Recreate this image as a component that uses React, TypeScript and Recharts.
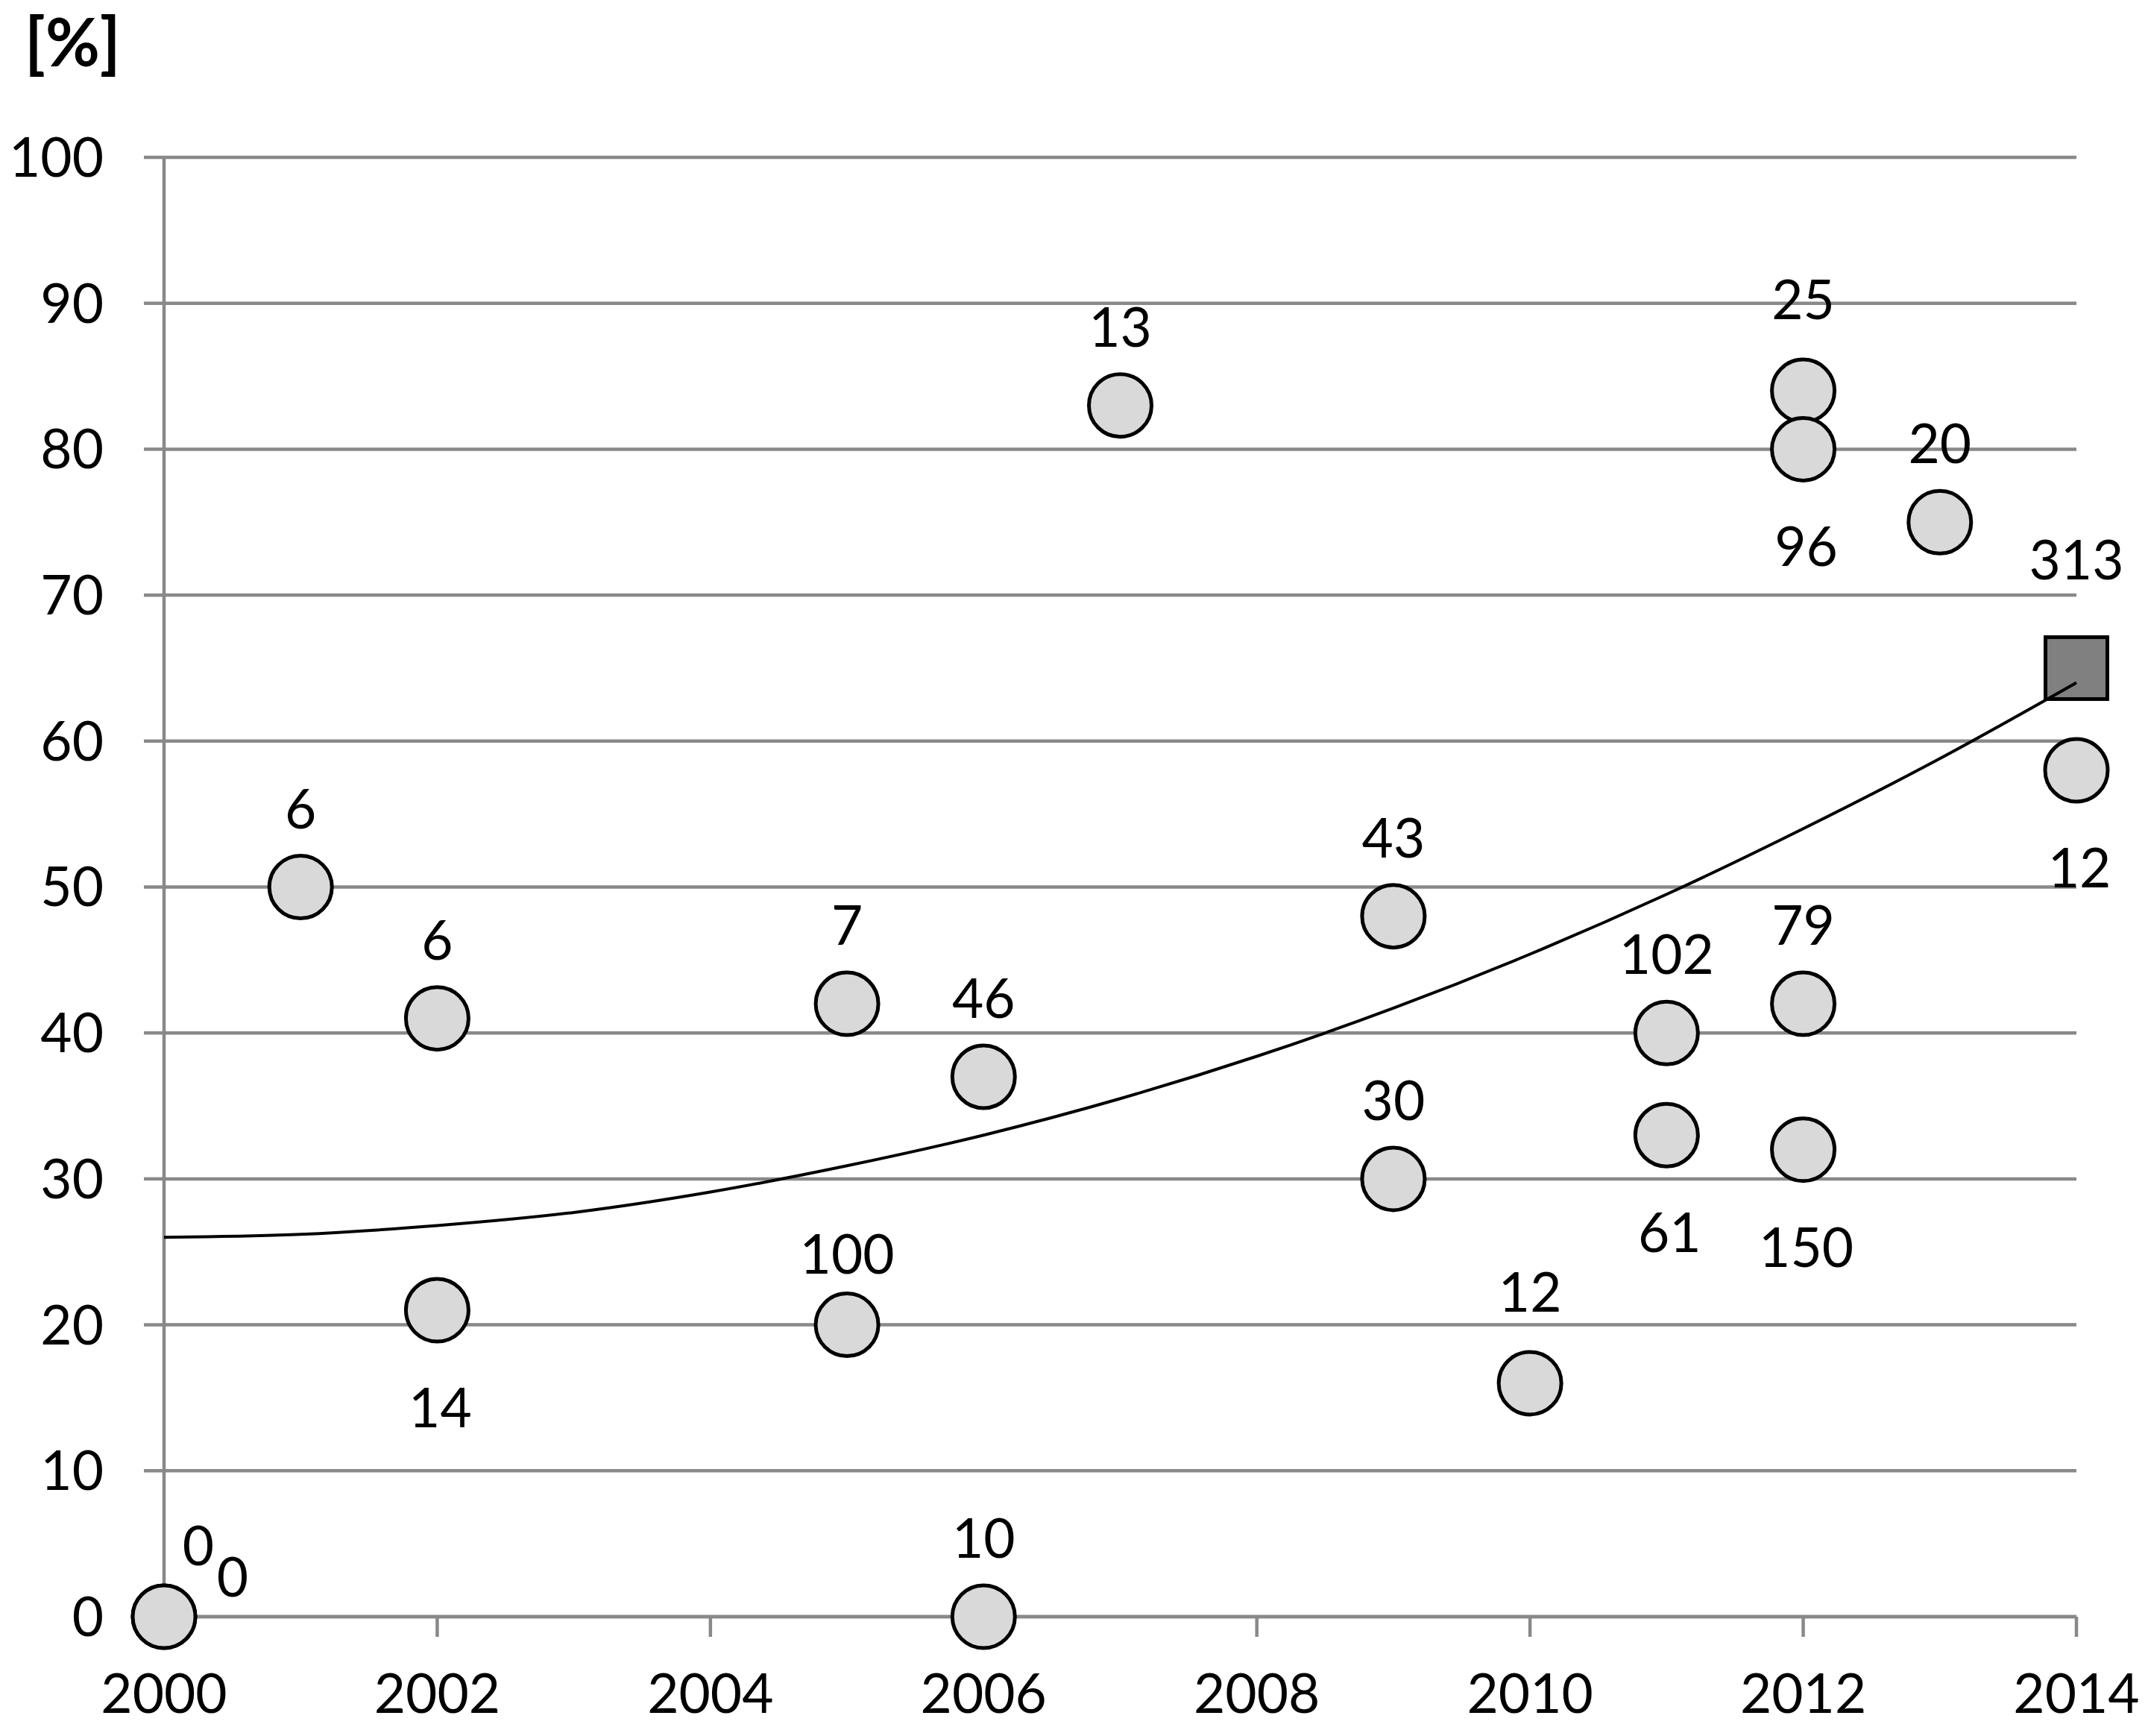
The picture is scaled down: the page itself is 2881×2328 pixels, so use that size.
import React from "react";
import {
  ScatterChart,
  Scatter,
  XAxis,
  YAxis,
  CartesianGrid,
} from "recharts";

// survey points: year, share [%], number of cases (label)
const years = [2000, 2000, 2001, 2002, 2002, 2005, 2005, 2006, 2006, 2007, 2009, 2009, 2010, 2011, 2011, 2012, 2012, 2012, 2012, 2013, 2014];
const shares = [0, 0, 50, 41, 21, 42, 20, 37, 0, 83, 48, 30, 16, 40, 33, 84, 80, 42, 32, 75, 58];
const counts = [0, 0, 6, 6, 14, 7, 100, 46, 10, 13, 43, 30, 12, 102, 61, 25, 96, 79, 150, 20, 12];
const labelSide = ["upRight", "right", "up", "up", "down", "up", "upLow", "up", "up", "up", "up", "up", "upHigh", "up", "down", "upHigh", "down", "up", "down", "up", "down"];

// highlighted (square) point
const squareYear = [2014];
const squareShare = [65];
const squareCount = [313];
const squareSide = ["upTop"];

// trend curve
const trendYears = [2000, 2001, 2002, 2003, 2004, 2005, 2006, 2007, 2008, 2009, 2010, 2011, 2012, 2013, 2014];
const trendValues = [26, 26.2, 26.8, 27.7, 29.1, 30.9, 33.0, 35.5, 38.4, 41.7, 45.4, 49.5, 54.0, 58.8, 64.0];

const xTicks = [2000, 2002, 2004, 2006, 2008, 2010, 2012, 2014];
const yTicks = [0, 10, 20, 30, 40, 50, 60, 70, 80, 90, 100];

const FONT = "Lato, 'Noto Sans', sans-serif";
const FS = 73;
const GRAY = "#898989";

const points = years.map((x, i) => ({ x, y: shares[i], n: counts[i], side: labelSide[i] }));
const squares = squareYear.map((x, i) => ({ x, y: squareShare[i], n: squareCount[i], side: squareSide[i] }));
const trend = trendYears.map((x, i) => ({ x, y: trendValues[i] }));

function labelPos(cx: number, cy: number, side: string) {
  if (side === "down") return { x: cx + 4, y: cy + 129 };
  if (side === "upRight") return { x: cx + 46, y: cy - 97 };
  if (side === "right") return { x: cx + 92, y: cy - 55 };
  if (side === "upHigh") return { x: cx, y: cy - 124 };
  if (side === "upTop") return { x: cx, y: cy - 147 };
  if (side === "upLow") return { x: cx, y: cy - 97 };
  return { x: cx, y: cy - 107 };
}

function Label({ cx, cy, payload }: any) {
  const p = labelPos(cx, cy, payload.side);
  return (
    <text x={p.x} y={p.y} textAnchor="middle" dominantBaseline="central" fontFamily={FONT} fontSize={FS} fill="#000">
      {payload.n}
    </text>
  );
}

function Dot(props: any) {
  const { cx, cy } = props;
  return (
    <g>
      <circle cx={cx} cy={cy} r={42} fill="#d9d9d9" stroke="#000" strokeWidth={5} />
      <Label {...props} />
    </g>
  );
}

function Square(props: any) {
  const { cx, cy } = props;
  return (
    <g>
      <rect x={cx - 41.5} y={cy - 41.5} width={83} height={83} fill="#808080" stroke="#000" strokeWidth={5} />
      <Label {...props} />
    </g>
  );
}

export default function App() {
  return (
    <div style={{ position: "relative", width: 2873, height: 2320 }}>
      <div
        style={{
          position: "absolute",
          left: 25,
          top: 2,
          fontFamily: FONT,
          fontWeight: 700,
          fontSize: 89,
          lineHeight: 1,
        }}
      >
        [%]
      </div>
      <ScatterChart width={2873} height={2320} margin={{ top: 203, right: 96, left: 62, bottom: 10 }}>
        <CartesianGrid horizontal vertical={false} stroke={GRAY} strokeWidth={4.5} />
        <XAxis
          type="number"
          dataKey="x"
          domain={[2000, 2014]}
          ticks={xTicks}
          interval={0}
          height={150}
          tickSize={27}
          tickMargin={50}
          axisLine={{ stroke: GRAY, strokeWidth: 4.5 }}
          tickLine={{ stroke: GRAY, strokeWidth: 4.5 }}
          tick={{ fontFamily: FONT, fontSize: FS, fill: "#000" }}
        />
        <YAxis
          type="number"
          dataKey="y"
          domain={[0, 100]}
          ticks={yTicks}
          interval={0}
          width={150}
          tickSize={27}
          tickMargin={54}
          axisLine={{ stroke: GRAY, strokeWidth: 4.5 }}
          tickLine={{ stroke: GRAY, strokeWidth: 4.5 }}
          tick={{ fontFamily: FONT, fontSize: FS, fill: "#000" }}
        />
        <Scatter data={points} shape={<Dot />} isAnimationActive={false} />
        <Scatter data={squares} shape={<Square />} isAnimationActive={false} />
        <Scatter
          data={trend}
          line={{ stroke: "#000", strokeWidth: 4 }}
          lineJointType="monotoneX"
          shape={() => <g />}
          isAnimationActive={false}
        />
      </ScatterChart>
    </div>
  );
}
